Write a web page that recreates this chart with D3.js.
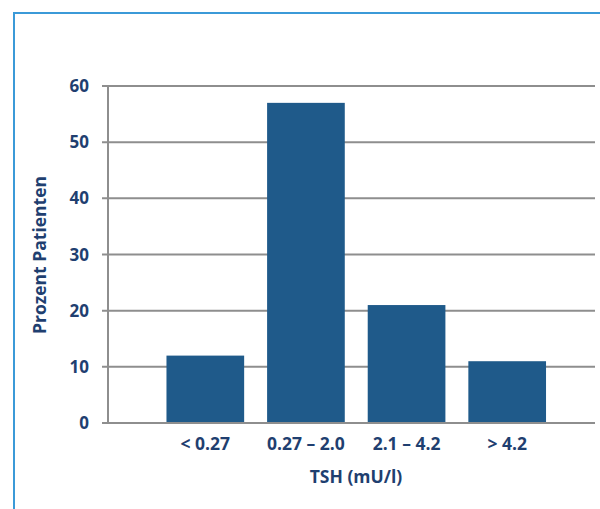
<!DOCTYPE html>
<html><head><meta charset="utf-8">
<script src="https://cdn.jsdelivr.net/npm/d3@7"></script>
<style>body{margin:0;background:#fff}svg{display:block}</style>
</head><body>
<svg id="c" width="600" height="509"></svg>
<script>
const categories = ["< 0.27", "0.27 – 2.0", "2.1 – 4.2", "> 4.2"];
const values = [12, 57, 21, 11];
const yTicks = [0, 10, 20, 30, 40, 50, 60];
const yTitle = "Prozent Patienten";
const xTitle = "TSH (mU/l)";

const svg = d3.select("#c");
const navy = "#1f3f70", barCol = "#1f5a8a", grid = "#8e8e8e";
const font = "'Open Sans', sans-serif";

// frame
svg.append("path").attr("d", "M14,509 V13 H600").attr("fill", "none")
  .attr("stroke", "#3b9ad8").attr("stroke-width", 2);

const y = d3.scaleLinear().domain([0, 60]).range([423, 86]);
const x = d3.scaleBand().domain(categories).range([155, 557.5]).paddingInner(0.228).paddingOuter(0.114);
const x0 = 108, x1 = 595;

// gridlines
svg.append("g").selectAll("line").data(yTicks).join("line")
  .attr("x1", x0 - 6).attr("x2", x1).attr("y1", d => y(d)).attr("y2", d => y(d))
  .attr("stroke", grid).attr("stroke-width", 2);

// y axis line
svg.append("line").attr("x1", x0).attr("x2", x0).attr("y1", y(60)).attr("y2", y(0))
  .attr("stroke", grid).attr("stroke-width", 2);

// bars
svg.append("g").selectAll("rect").data(values).join("rect")
  .attr("x", (d, i) => x(categories[i])).attr("width", x.bandwidth())
  .attr("y", d => y(d)).attr("height", d => y(0) - y(d)).attr("fill", barCol);

// baseline on top
svg.append("line").attr("x1", x0 - 6).attr("x2", x1).attr("y1", y(0)).attr("y2", y(0))
  .attr("stroke", grid).attr("stroke-width", 2);

// y tick labels
svg.append("g").selectAll("text").data(yTicks).join("text")
  .attr("x", 89).attr("y", d => y(d)).attr("dy", "0.36em").attr("text-anchor", "end")
  .attr("font-family", font).attr("font-weight", "bold").attr("font-size", 17).attr("fill", navy)
  .text(d => d);

// x labels
svg.append("g").selectAll("text").data(categories).join("text")
  .attr("x", d => x(d) + x.bandwidth() / 2).attr("y", 450).attr("text-anchor", "middle")
  .attr("font-family", font).attr("font-weight", "bold").attr("font-size", 17.5).attr("fill", navy)
  .text(d => d);

// axis titles
svg.append("text").attr("x", 356).attr("y", 483).attr("text-anchor", "middle")
  .attr("font-family", font).attr("font-weight", "bold").attr("font-size", 17.5).attr("fill", navy)
  .text(xTitle);
svg.append("text").attr("transform", "translate(46,255) rotate(-90)").attr("text-anchor", "middle")
  .attr("font-family", font).attr("font-weight", "bold").attr("font-size", 17.5).attr("fill", navy)
  .text(yTitle);
</script>
</body></html>
